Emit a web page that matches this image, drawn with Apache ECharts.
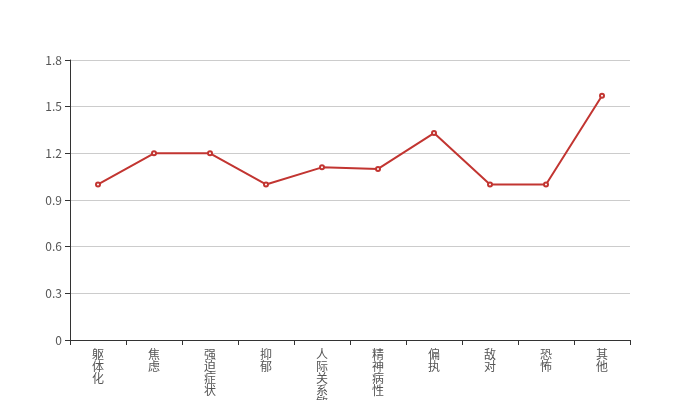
<!DOCTYPE html>
<html>
<head>
<meta charset="utf-8">
<script src="https://cdn.jsdelivr.net/npm/echarts@6/dist/echarts.min.js"></script>
<style>
  html, body { margin: 0; padding: 0; background: #fff; }
  #chart { width: 700px; height: 400px; }
</style>
</head>
<body>
<div id="chart"></div>
<script>
const categories = ['躯体化', '焦虑', '强迫症状', '抑郁', '人际关系敏感', '精神病性', '偏执', '敌对', '恐怖', '其他']
const scores = [1.0, 1.2, 1.2, 1.0, 1.11, 1.1, 1.33, 1.0, 1.0, 1.57]

const chart = echarts.init(document.getElementById('chart'), null, { renderer: 'canvas' })

chart.setOption({
  backgroundColor: '#fff',
  animation: false,
  grid: { left: 70, right: 70, top: 60, bottom: 60, containLabel: false, outerBoundsMode: 'none' },
  xAxis: {
    type: 'category',
    data: categories,
    boundaryGap: true,
    axisLine: { lineStyle: { color: '#333' } },
    axisTick: { show: true, alignWithLabel: false, lineStyle: { color: '#333' } },
    axisLabel: {
      interval: 0,
      margin: 8,
      color: '#555',
      fontSize: 12,
      lineHeight: 12,
      fontFamily: 'Noto Sans CJK SC',
      formatter: (v) => v.split('').join('\n'),
    },
  },
  yAxis: {
    type: 'value',
    min: 0,
    max: 1.8,
    interval: 0.3,
    axisLine: { show: true, lineStyle: { color: '#333' } },
    axisTick: { show: true, lineStyle: { color: '#333' } },
    axisLabel: { color: '#555', fontSize: 12, fontFamily: 'Noto Sans CJK SC' },
    splitLine: { lineStyle: { color: '#ccc' } },
  },
  series: [{
    type: 'line',
    data: scores,
    symbol: 'emptyCircle',
    symbolSize: 4,
    itemStyle: { color: '#c23531' },
    lineStyle: { color: '#c23531', width: 2 },
  }],
})
</script>
</body>
</html>
